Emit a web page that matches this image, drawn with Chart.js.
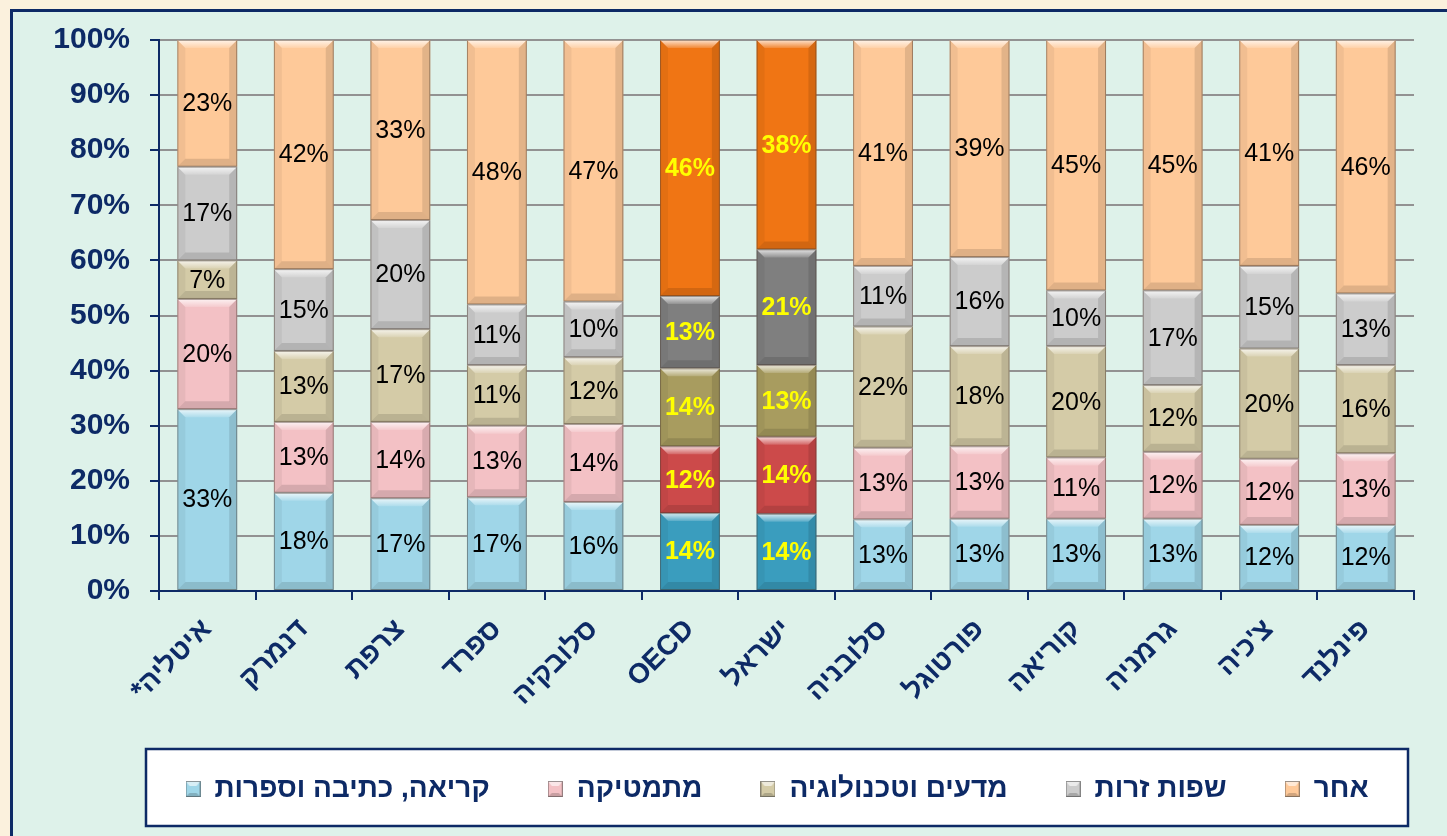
<!DOCTYPE html>
<html lang="he">
<head>
<meta charset="utf-8">
<title>התפלגות זמן ההוראה לפי תחומים</title>
<script src="https://cdn.jsdelivr.net/npm/chart.js@4.4.1/dist/chart.umd.min.js"></script>
<style>
  html, body { margin: 0; padding: 0; background: #fbf1dd; overflow: hidden; }
  #panel {
    position: absolute; left: 10px; top: 9px; width: 1460px; height: 860px;
    background: #def2ea; border: 3px solid #0d2a66;
  }
  #wrap { position: absolute; left: 0; top: 0; width: 1447px; height: 836px; }
  #wrap canvas { direction: rtl; }
</style>
</head>
<body>
<div id="panel"></div>
<div id="wrap"><canvas id="chart"></canvas></div>
<script>
// countries, left to right
const countries = ['איטליה*', 'דנמרק', 'צרפת', 'ספרד', 'סלובקיה', 'OECD', 'ישראל', 'סלובניה', 'פורטוגל', 'קוריאה', 'גרמניה', "צ'כיה", 'פינלנד'];

// share of teaching time per subject (%)
const reading   = [33, 18, 17, 17, 16, 14, 14, 13, 13, 13, 13, 12, 12];
const maths     = [20, 13, 14, 13, 14, 12, 14, 13, 13, 11, 12, 12, 13];
const science   = [7, 13, 17, 11, 12, 14, 13, 22, 18, 20, 12, 20, 16];
const languages = [17, 15, 20, 11, 10, 13, 21, 11, 16, 10, 17, 15, 13];
const other     = [23, 42, 33, 48, 47, 46, 38, 41, 39, 45, 45, 41, 46];

const seriesNames = ['קריאה, כתיבה וספרות', 'מתמטיקה', 'מדעים וטכנולוגיה', 'שפות זרות', 'אחר'];
const yTicks = [0, 10, 20, 30, 40, 50, 60, 70, 80, 90, 100];

// bars drawn in the darker palette
const highlighted = ['OECD', 'ישראל'];

const NAVY = '#0d2a66';
const FONT = 'Arial, "Liberation Sans", "DejaVu Sans", sans-serif';
const LEGEND_SIZE = 28;
const LEGEND_PAD = 58;

const palette = [
  { light: '#9fd6e8', dark: '#3a9dbe' },
  { light: '#f3c1c5', dark: '#cc4a4a' },
  { light: '#d4cba7', dark: '#a89c5f' },
  { light: '#cccccc', dark: '#7f7f7f' },
  { light: '#fec999', dark: '#f07514' }
];

const series = [reading, maths, science, languages, other];
const totals = countries.map((_, i) => series.reduce((s, arr) => s + arr[i], 0));
const isHl = i => highlighted.includes(countries[i]);

// small bevelled square used as legend marker
function marker(color) {
  const c = document.createElement('canvas');
  c.width = 15; c.height = 16;
  const g = c.getContext('2d');
  g.fillStyle = color; g.fillRect(0, 0, 15, 16);
  g.fillStyle = 'rgba(255,255,255,0.6)';
  g.beginPath(); g.moveTo(0, 0); g.lineTo(15, 0); g.lineTo(11, 5); g.lineTo(4, 5); g.closePath(); g.fill();
  g.fillStyle = 'rgba(0,0,0,0.18)';
  g.beginPath(); g.moveTo(0, 16); g.lineTo(15, 16); g.lineTo(11, 12); g.lineTo(4, 12); g.closePath(); g.fill();
  g.strokeStyle = 'rgba(60,60,60,0.5)'; g.strokeRect(0.5, 0.5, 14, 15);
  return c;
}
const markers = palette.map(p => marker(p.light));

function poly(ctx, pts, fill) {
  ctx.beginPath();
  ctx.moveTo(pts[0][0], pts[0][1]);
  for (let k = 1; k < pts.length; k++) ctx.lineTo(pts[k][0], pts[k][1]);
  ctx.closePath();
  ctx.fillStyle = fill;
  ctx.fill();
}

// raised look on every bar segment
const bevel = {
  id: 'bevel',
  afterDatasetsDraw(chart) {
    const ctx = chart.ctx;
    ctx.save();
    chart.data.datasets.forEach((ds, di) => {
      chart.getDatasetMeta(di).data.forEach(bar => {
        const l = bar.x - bar.width / 2, r = bar.x + bar.width / 2;
        const t = Math.min(bar.y, bar.base), b = Math.max(bar.y, bar.base);
        const d = Math.min(8, (b - t) / 2);
        const top = ctx.createLinearGradient(0, t, 0, t + d);
        top.addColorStop(0, 'rgba(255,255,255,0.8)');
        top.addColorStop(1, 'rgba(255,255,255,0.15)');
        poly(ctx, [[l, t], [r, t], [r - d, t + d], [l + d, t + d]], top);
        poly(ctx, [[l, b], [r, b], [r - d, b - d], [l + d, b - d]], 'rgba(0,0,0,0.12)');
        poly(ctx, [[l, t], [l + d, t + d], [l + d, b - d], [l, b]], 'rgba(0,0,0,0.05)');
        poly(ctx, [[r, t], [r - d, t + d], [r - d, b - d], [r, b]], 'rgba(0,0,0,0.11)');
        ctx.strokeStyle = 'rgba(70,55,45,0.45)';
        ctx.lineWidth = 1;
        ctx.strokeRect(l + 0.5, t + 0.5, r - l - 1, b - t - 1);
      });
    });
    ctx.restore();
  }
};

// percentage written inside each segment
const valueLabels = {
  id: 'valueLabels',
  afterDatasetsDraw(chart) {
    const ctx = chart.ctx;
    ctx.save();
    ctx.textAlign = 'center';
    ctx.textBaseline = 'middle';
    chart.data.datasets.forEach((ds, di) => {
      chart.getDatasetMeta(di).data.forEach((bar, i) => {
        const hl = isHl(i);
        ctx.font = (hl ? 'bold ' : '') + '25px ' + FONT;
        ctx.fillStyle = hl ? '#ffff00' : '#000000';
        ctx.fillText(series[di][i] + '%', bar.x, (bar.y + bar.base) / 2 + 1);
      });
    });
    ctx.restore();
  }
};

// white framed box behind the legend; the legend row is centred on it
const legendFrame = {
  id: 'legendFrame',
  afterLayout(chart) {
    const { chartArea, legend } = chart;
    // same midpoint as the frame, but wide enough that the row never wraps
    legend.left = chartArea.left - 13 - 100;
    legend.right = chartArea.right - 6 + 100;
  },
  beforeDraw(chart) {
    const { ctx, chartArea, legend } = chart;
    const cy = legend.top + LEGEND_PAD + LEGEND_SIZE / 2;
    const x0 = chartArea.left - 13, x1 = chartArea.right - 6;
    ctx.save();
    ctx.fillStyle = '#ffffff';
    ctx.fillRect(x0, cy - 40, x1 - x0, 77);
    ctx.strokeStyle = NAVY;
    ctx.lineWidth = 2.5;
    ctx.strokeRect(x0, cy - 40, x1 - x0, 77);
    ctx.restore();
  }
};

new Chart(document.getElementById('chart'), {
  type: 'bar',
  data: {
    labels: countries,
    datasets: series.map((arr, di) => ({
      label: seriesNames[di],
      data: arr.map((v, i) => v / totals[i] * 100),
      backgroundColor: arr.map((_, i) => isHl(i) ? palette[di].dark : palette[di].light),
      borderWidth: 0,
      categoryPercentage: 1,
      barPercentage: 0.62
    }))
  },
  options: {
    responsive: true,
    maintainAspectRatio: false,
    animation: false,
    layout: { padding: { top: 40, right: 33, bottom: 23, left: 0 } },
    scales: {
      x: {
        stacked: true,
        afterFit: s => { s.height = 126; },
        grid: { drawOnChartArea: false, drawTicks: true, tickLength: 9, color: NAVY, lineWidth: 2, offset: true },
        border: { color: NAVY, width: 2 },
        ticks: {
          color: NAVY,
          font: { family: FONT, size: 28, weight: 'bold' },
          minRotation: 45, maxRotation: 45,
          padding: 13,
          autoSkip: false
        }
      },
      y: {
        stacked: true,
        min: 0, max: 100,
        afterFit: s => { s.width = 159; },
        afterBuildTicks: s => { s.ticks = yTicks.map(v => ({ value: v })); },
        grid: { color: '#929292', lineWidth: 2, tickLength: 9, tickColor: NAVY, tickWidth: 2 },
        border: { color: NAVY, width: 2 },
        ticks: {
          color: NAVY,
          font: { family: FONT, size: 30, weight: 'bold' },
          padding: 20,
          callback: v => v + '%'
        }
      }
    },
    plugins: {
      tooltip: { enabled: false },
      legend: {
        position: 'bottom',
        labels: {
          color: NAVY,
          font: { family: FONT, size: LEGEND_SIZE, weight: 'bold' },
          padding: LEGEND_PAD,
          usePointStyle: true,
          boxWidth: 15,
          boxHeight: 15,
          generateLabels: chart => chart.data.datasets.map((ds, i) => ({
            text: ds.label,
            fillStyle: palette[i].light,
            strokeStyle: palette[i].light,
            lineWidth: 0,
            pointStyle: markers[i],
            fontColor: NAVY,
            hidden: false,
            datasetIndex: i
          }))
        }
      }
    }
  },
  plugins: [legendFrame, bevel, valueLabels]
});
</script>
</body>
</html>
